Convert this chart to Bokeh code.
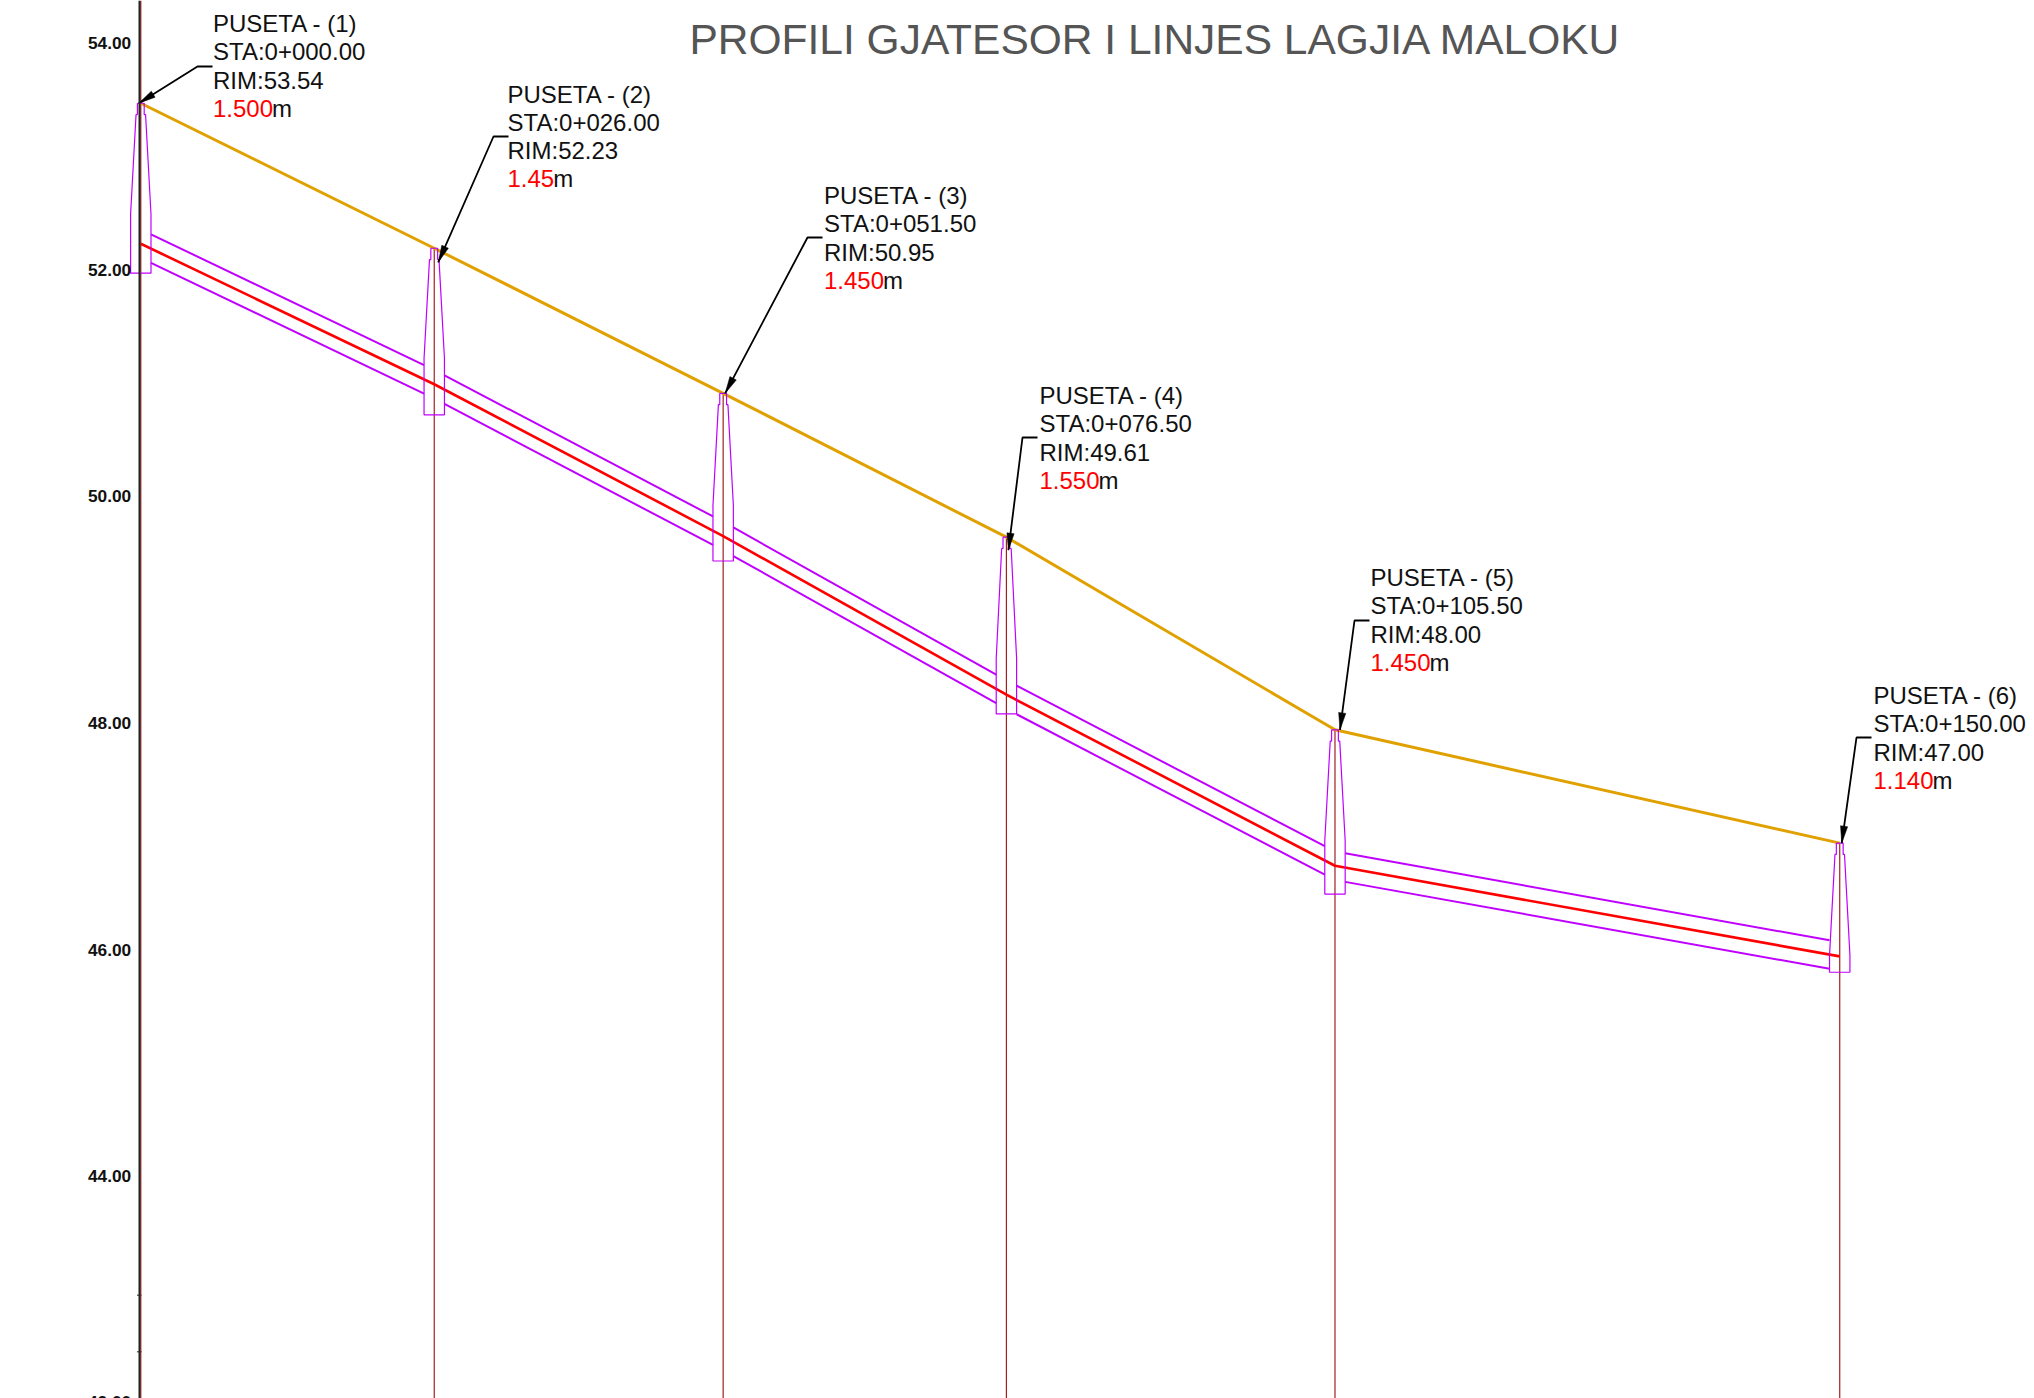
import numpy as np
from bokeh.plotting import figure
from bokeh.models import LinearAxis, FixedTicker, CustomJSTickFormatter
from bokeh.core.properties import value
from bokeh.embed import file_html
from bokeh.resources import INLINE

# ---- data ----
stations = [0, 25.9, 51.4, 76.4, 105.4, 149.95]
ground = [53.47, 52.19, 50.91, 49.64, 47.94, 46.94]
pipe = [52.23, 50.99, 49.65, 48.25, 46.74, 45.94]
bottoms = [51.97, 50.72, 49.43, 48.08, 46.49, 45.80]
kinks = [52.49, 51.22, 49.92, 48.57, 46.96, 45.95]
names = ["PUSETA - (1)", "PUSETA - (2)", "PUSETA - (3)", "PUSETA - (4)", "PUSETA - (5)", "PUSETA - (6)"]
sta_labels = ["STA:0+000.00", "STA:0+026.00", "STA:0+051.50", "STA:0+076.50", "STA:0+105.50", "STA:0+150.00"]
rim_labels = ["RIM:53.54", "RIM:52.23", "RIM:50.95", "RIM:49.61", "RIM:48.00", "RIM:47.00"]
depth_labels = ["1.500", "1.45", "1.450", "1.550", "1.450", "1.140"]
y_ticks = [44, 46, 48, 50, 52, 54]
minor_marks = [42.95, 42.45]
title_text = "PROFILI GJATESOR I LINJES LAGJIA MALOKU"

# ---- layout ----
W, H = 2034, 1398
SX, SY = 11.33, 113.3
PX0, PY54 = 140.3, 42.7
def fx(px): return (np.asarray(px, float) - PX0) / SX
def fy(py): return 54 - (np.asarray(py, float) - PY54) / SY
XR = (float(fx(0)), float(fx(W)))
YR = (float(fy(H)), float(fy(0)))

label_left = [212.5, 507, 823.5, 1039, 1370, 1873]
label_base = [23, 93.5, 195, 395, 577, 695]
elbow_px = [(197, 66), (493, 136), (807, 237), (1022, 437), (1354, 620), (1856, 737)]
leader_start_dx = 15
tip_dx = [-2, 4, 2, 2, 5, 2]
tip_dy = [0, 14, 0, 13, 0, 0]

PURPLE = "#c000ff"
RED = "#ff0000"
GOLD = "#e0a100"
DARKRED = "#a02020"

p = figure(width=W, height=H, x_range=XR, y_range=YR, toolbar_location=None,
           output_backend="svg", min_border=0, outline_line_color=None,
           x_axis_location=None, y_axis_location=None)
p.grid.visible = False

# axis
ax = LinearAxis(fixed_location=float(fx(138.7)), ticker=FixedTicker(ticks=y_ticks),
                formatter=CustomJSTickFormatter(code="return tick.toFixed(2)"),
                major_label_text_font="Liberation Sans", major_label_text_font_style="bold",
                major_label_text_font_size="17.3px", major_label_text_color="#111111",
                major_tick_in=0, major_tick_out=0, minor_tick_in=0, minor_tick_out=0,
                major_label_standoff=8, axis_line_color="#222222", axis_line_width=2)
p.add_layout(ax, "left")
for m in minor_marks:
    p.segment([float(fx(136.5))], [m], [float(fx(141))], [m], line_color="#222222", line_width=1)
p.text([float(fx(130.7))], [float(fy(1395))], text=["42.00"], text_color="#111111",
       text_font=value("Liberation Sans"), text_font_style="bold", text_font_size="17.3px",
       text_align="right", text_baseline="top")

# vertical station lines
tops = [YR[1]] + ground[1:]
p.segment(stations, [YR[0]] * 6, stations, tops, line_color=DARKRED, line_width=1.2)

# ground
p.line(stations, ground, line_color=GOLD, line_width=3)

# pipe
p.line(stations, pipe, line_color=RED, line_width=2.6)
HALF = 0.126
WALL = 0.9
for i in range(5):
    slope = (pipe[i + 1] - pipe[i]) / (stations[i + 1] - stations[i])
    x0, x1 = stations[i] + WALL, stations[i + 1] - WALL
    y0, y1 = pipe[i] + slope * WALL, pipe[i + 1] - slope * WALL
    for sgn in (1, -1):
        p.line([x0, x1], [y0 + sgn * HALF, y1 + sgn * HALF], line_color=PURPLE, line_width=2)

# manholes
for s, g, b, k in zip(stations, ground, bottoms, kinks):
    xs = [-0.3, -0.3, -0.42, -0.9, -0.9, 0.9, 0.9, 0.42, 0.3, 0.3, -0.3]
    ys = [g, g - 0.1, g - 0.1, k, b, b, k, g - 0.1, g - 0.1, g, g]
    p.line([s + v for v in xs], ys, line_color=PURPLE, line_width=1.2)

# leaders
for i in range(6):
    ex, ey = elbow_px[i]
    tipx = PX0 + SX * stations[i] + tip_dx[i]
    tipy = PY54 + (54 - ground[i]) * SY + tip_dy[i]
    p.line(fx([ex + leader_start_dx, ex, tipx]), fy([ey, ey, tipy]), line_color="black", line_width=1.8)
    d = np.array([ex - tipx, ey - tipy], float)
    d /= np.hypot(*d)
    n = np.array([-d[1], d[0]])
    base = np.array([tipx, tipy]) + d * 17
    a = base + n * 3.6
    c = base - n * 3.6
    p.patch(fx([tipx, a[0], c[0]]), fy([tipy, a[1], c[1]]), fill_color="black", line_color="black", line_width=0.5)

# labels
FS = 24
LS = 28.3
ARIAL_W = {"1": .556, "4": .556, "5": .556, "0": .556, ".": .278}
common = dict(text_font=value("Liberation Sans"), text_font_size=f"{FS}px", text_baseline="alphabetic", text_align="left")
for i in range(6):
    x = float(fx(label_left[i]))
    b = label_base[i]
    p.text([x], [float(fy(b))], text=[names[i]], text_color="#111111", **common)
    p.text([x], [float(fy(b + LS))], text=[sta_labels[i]], text_color="#111111", **common)
    p.text([x], [float(fy(b + 2 * LS))], text=[rim_labels[i]], text_color="#111111", **common)
    p.text([x], [float(fy(b + 3 * LS))], text=[depth_labels[i]], text_color=RED, **common)
    w = sum(ARIAL_W[c] for c in depth_labels[i]) * FS - 1
    p.text([x], [float(fy(b + 3 * LS))], text=["m"], x_offset=w, text_color="#111111", **common)

# title
p.text([float(fx(689))], [float(fy(38.5))], text=[title_text], text_color="#555555",
       text_font=value("Liberation Sans"), text_font_size="42.5px", text_baseline="alphabetic", text_align="left")

open("out.html", "w").write(file_html(p, INLINE))
